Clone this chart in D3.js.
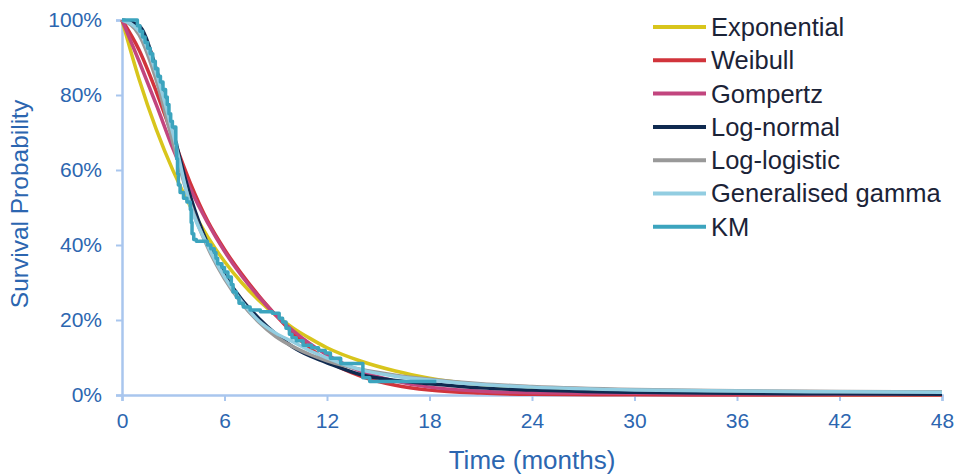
<!DOCTYPE html>
<html>
<head>
<meta charset="utf-8">
<script src="https://cdn.jsdelivr.net/npm/d3@7"></script>
<style>
  body { margin: 0; background: #fff; }
  svg text { font-family: "Liberation Sans", Arial, sans-serif; }
</style>
</head>
<body>
<div id="chart"></div>
<script>

// Set dimensions and margins for the plot
const width = 957;
const height = 474;
const margin = {left: 122, right: 15, top: 20, bottom: 79};

const fitTimes = [0, 1, 2, 3, 4, 5, 6, 7, 8, 9, 10, 11, 12, 14, 16, 18, 21, 24, 30, 36, 42, 48];

// survival (%) for every fitted model at fitTimes
const expSurv  = [100, 84.2, 70.9, 59.7, 50.3, 42.3, 35.6, 30.0, 25.3, 21.3, 17.9, 15.1, 12.6, 9.0, 6.4, 4.5, 2.7, 1.6, 0.6, 0.2, 0.08, 0.03];
const weibSurv = [100, 92, 81, 68.5, 56.5, 46.5, 38.8, 32.3, 26.5, 21.3, 16.5, 12.5, 9.2, 5.0, 2.6, 1.3, 0.5, 0.2, 0.05, 0, 0, 0];
const gompSurv = [100, 89, 77.5, 65.5, 55, 46, 38.3, 31.8, 26.2, 21.3, 17.2, 13.7, 10.7, 6.3, 3.7, 2.1, 1.0, 0.6, 0.45, 0.3, 0.2, 0.15];
const lnormSurv = [100, 98.5, 87, 70, 53, 40.5, 32, 25.5, 20.5, 16.3, 12.8, 10.4, 8.6, 5.4, 3.9, 3.0, 1.9, 1.3, 0.7, 0.45, 0.3, 0.22];
const llogSurv = [100, 96, 84, 67, 51, 39.5, 31, 24.5, 19.5, 15.6, 12.9, 10.8, 9.1, 6.8, 5.3, 4.2, 3.0, 2.3, 1.5, 1.15, 0.95, 0.85];
const ggamSurv = [100, 97, 86, 69.5, 50.5, 40, 31.5, 25, 19.8, 16.5, 14.2, 11.8, 9.9, 6.7, 5.0, 4.0, 2.8, 2.1, 1.35, 1.05, 0.85, 0.75];

// Kaplan-Meier steps (month, survival %)
const kmTimes = [0, 0.9, 1.05, 1.2, 1.35, 1.5, 1.65, 1.8, 1.95, 2.1, 2.25, 2.4, 2.55, 2.65, 2.75, 2.85, 2.95,
  3.15, 3.2, 3.25, 3.3, 3.4, 3.6, 3.8, 4.0, 4.05, 4.1, 4.2, 4.35, 5.0, 5.2, 5.4, 5.5, 5.6, 5.85, 6.0, 6.2,
  6.4, 6.5, 6.7, 6.85, 7.1, 7.5, 8.1, 8.8, 9.2, 9.4, 9.6, 9.8, 9.95, 10.2, 10.6, 11.1, 11.5, 11.9, 12.2,
  12.8, 14.1, 14.5, 18.4];
const kmSurv = [100, 98.5, 97, 95.5, 94, 92.5, 91, 89, 87, 85, 83.5, 81.5, 79.5, 77.5, 75, 73, 71.5,
  67, 63, 59, 56, 54, 52.5, 51.5, 49.5, 46, 43, 41.5, 41, 40, 39, 38, 36.5, 35, 34, 32.8, 31.5,
  29.5, 27.5, 26, 24.5, 23.5, 22.7, 22.2, 21.8, 20.5, 19.5, 17.8, 16.2, 15.3, 14.5, 13.3, 12.6, 11.9, 11.2, 9.8,
  8.4, 4.6, 3.6, 3.6];

const seriesNames  = ["Exponential", "Weibull", "Gompertz", "Log-normal", "Log-logistic", "Generalised gamma", "KM"];
const seriesColors = ["#d8c51c", "#d1343b", "#c2457e", "#0f2a50", "#999999", "#92cde1", "#3ca4be"];

const xTicks = [0, 6, 12, 18, 24, 30, 36, 42, 48];
const yTicks = [0, 20, 40, 60, 80, 100];

const axisColor = "#a9c6ee";
const labelColor = "#2c66b0";

const svg = d3.select("#chart")
  .append("svg")
  .attr("width", width)
  .attr("height", height);

// scales
const x = d3.scaleLinear()
  .domain([0, 48])
  .range([margin.left, width - margin.right]);

const y = d3.scaleLinear()
  .domain([0, 100])
  .range([height - margin.bottom, margin.top]);

// y axis
const yAxis = svg.append("g")
  .attr("transform", `translate(${margin.left},0)`)
  .call(d3.axisLeft(y).tickValues(yTicks).tickFormat(d => d + "%").tickSize(6).tickPadding(14));

// x axis
const xAxis = svg.append("g")
  .attr("transform", `translate(0,${height - margin.bottom})`)
  .call(d3.axisBottom(x).tickValues(xTicks).tickSize(6).tickPadding(12));

[xAxis, yAxis].forEach(g => {
  g.select(".domain").attr("stroke", axisColor).attr("stroke-width", 2.5);
  g.selectAll(".tick line").attr("stroke", axisColor).attr("stroke-width", 2);
  g.selectAll(".tick text")
    .attr("fill", labelColor)
    .attr("font-size", "21px")
    .attr("font-family", "Liberation Sans, Arial, sans-serif");
});

// axis titles
svg.append("text")
  .attr("x", (x(0) + x(48)) / 2)
  .attr("y", 469)
  .attr("text-anchor", "middle")
  .attr("fill", labelColor)
  .attr("font-size", "26px")
  .text("Time (months)");

svg.append("text")
  .attr("transform", "translate(28,204) rotate(-90)")
  .attr("text-anchor", "middle")
  .attr("fill", labelColor)
  .attr("font-size", "24.5px")
  .text("Survival Probability");

// fitted curves
const fits = [expSurv, weibSurv, gompSurv, lnormSurv, llogSurv, ggamSurv];

const fitLine = d3.line()
  .x(d => x(d[0]))
  .y(d => y(d[1]))
  .curve(d3.curveMonotoneX);

fits.forEach((vals, i) => {
  svg.append("path")
    .datum(fitTimes.map((t, j) => [t, vals[j]]))
    .attr("fill", "none")
    .attr("stroke", seriesColors[i])
    .attr("stroke-width", 3.5)
    .attr("d", fitLine);
});

// KM step line
const kmLine = d3.line()
  .x(d => x(d[0]))
  .y(d => y(d[1]))
  .curve(d3.curveStepAfter);

svg.append("path")
  .datum(kmTimes.map((t, j) => [t, kmSurv[j]]))
  .attr("fill", "none")
  .attr("stroke", seriesColors[6])
  .attr("stroke-width", 3.5)
  .attr("stroke-linejoin", "round")
  .attr("d", kmLine);

// legend
const legend = svg.append("g");
seriesNames.forEach((name, i) => {
  const ly = 27 + i * 33.3;
  legend.append("line")
    .attr("x1", 653).attr("x2", 706)
    .attr("y1", ly).attr("y2", ly)
    .attr("stroke", seriesColors[i])
    .attr("stroke-width", 4);
  legend.append("text")
    .attr("x", 711)
    .attr("y", ly)
    .attr("dy", "0.35em")
    .attr("fill", "#1b2337")
    .attr("font-size", "25.5px")
    .text(name);
});

</script>
</body>
</html>
